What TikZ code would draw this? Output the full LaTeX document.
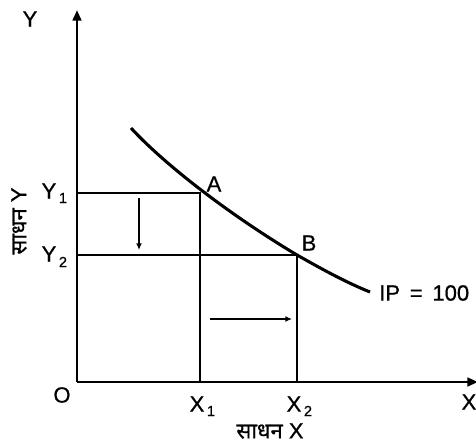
\documentclass[tikz,border=0pt]{standalone}
\usepackage{fontspec}
\setmainfont[FakeBold=0.7]{Liberation Sans}
\newfontfamily\devfont[Script=Devanagari,FakeBold=0.7]{Noto Sans}
\usetikzlibrary{arrows.meta}
\begin{document}
\begin{tikzpicture}[x=0.75pt,y=-0.75pt,
  ax/.style={line width=1.9pt,-{Triangle[length=8pt,width=6.5pt]}},
  guide/.style={line width=1.6pt},
  curve/.style={line width=2.3pt},
  mv/.style={line width=1.4pt,-{Latex[length=5pt,width=4.5pt]}},
  lbl/.style={font=\fontsize{16.5}{16.5}\selectfont,inner sep=0pt},
  sub/.style={font=\fontsize{11}{11}\selectfont,inner sep=0pt}]
\useasboundingbox (0,0) rectangle (476,444);
\coordinate (O) at (77,382);
\coordinate (Ytop) at (77,10);
\coordinate (Xend) at (478,382);
\coordinate (Y1) at (77,193);
\coordinate (Y2) at (77,255);
\coordinate (X1) at (200,382);
\coordinate (X2) at (297,382);
\coordinate (A) at (200,193);
\coordinate (B) at (297,255);
\coordinate (C0) at (131,128);
\coordinate (C1) at (370,292);
% axes
\draw[ax] (O) -- (Ytop);
\draw[ax] (O) -- (Xend);
% guides
\draw[guide] (Y1) -- (A) -- (X1);
\draw[guide] (Y2) -- (B) -- (X2);
% curve
\draw[curve] (C0) .. controls (165,165) and (230,215) .. (B) .. controls (320,268) and (345,282) .. (C1);
% movement arrows
\coordinate (d0) at (139,198);
\coordinate (d1) at (139,250);
\coordinate (r0) at (210,319);
\coordinate (r1) at (292,319);
\draw[mv] (d0) -- (d1);
\draw[mv] (r0) -- (r1);
% labels
\node[lbl] (ly) at (30,19) {Y};
\node[lbl] (ly1) at (49,191) {Y};
\node[sub] (ly1s) at (63,198) {1};
\node[lbl] (ly2) at (49,254) {Y};
\node[sub] (ly2s) at (63,262) {2};
\node[lbl] (lo) at (62,395) {O};
\node[lbl] (lx1) at (197,404) {X};
\node[sub] (lx1s) at (211,411) {1};
\node[lbl] (lx2) at (294,404) {X};
\node[sub] (lx2s) at (308,411) {2};
\node[lbl] (lx) at (469,402) {X};
\node[lbl] (la) at (214,184) {A};
\node[lbl] (lb) at (309,243) {B};
\node[lbl,anchor=west] (lip) at (379,293) {IP\,{} =\,{} 100};
\node[lbl] (lsx) at (270,431) {{\devfont साधन} X};
\node[lbl,rotate=90] (lsy) at (19,221) {{\devfont साधन} Y};
\end{tikzpicture}
\end{document}
